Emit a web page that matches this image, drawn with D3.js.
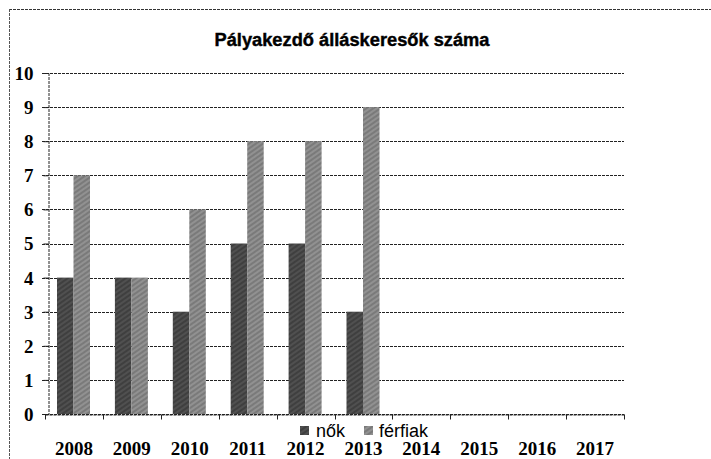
<!DOCTYPE html>
<html>
<head>
<meta charset="utf-8">
<script src="https://cdn.jsdelivr.net/npm/d3@7"></script>
<style>
  html, body { margin: 0; padding: 0; background: #fff; }
  svg { display: block; }
</style>
</head>
<body>
<svg id="chart" width="711" height="459"></svg>
<script>
const title = "Pályakezdő álláskeresők száma";
const categories = ["2008","2009","2010","2011","2012","2013","2014","2015","2016","2017"];
const seriesNames = ["nők","férfiak"];
const nok =     [4, 4, 3, 5, 5, 3, null, null, null, null];
const ferfiak = [7, 4, 6, 8, 8, 9, null, null, null, null];
const yTicks = [0,1,2,3,4,5,6,7,8,9,10];

const seriesValues = [nok, ferfiak];
const colors = ["#505050", "#7a7a7a"];
const hatchColors = ["#2e2e2e", "#a8a8a8"];

const svg = d3.select("#chart");
const W = 711, H = 459;
const plot = {left: 45, right: 624, top: 73, bottom: 414};

// outer frame (dashed, top and left like the scan)
svg.append("line").attr("x1", 9).attr("x2", W).attr("y1", 9.5).attr("y2", 9.5)
  .attr("stroke", "#333").attr("stroke-width", 1).attr("stroke-dasharray", "3,1");
svg.append("line").attr("x1", 9.5).attr("x2", 9.5).attr("y1", 9).attr("y2", H)
  .attr("stroke", "#555").attr("stroke-width", 1).attr("stroke-dasharray", "3,1");

// patterns
const defs = svg.append("defs");
colors.forEach((c, i) => {
  const p = defs.append("pattern").attr("id", "hatch" + i)
    .attr("patternUnits", "userSpaceOnUse").attr("width", 4).attr("height", 4)
    .attr("patternTransform", "rotate(-35)");
  p.append("rect").attr("width", 4).attr("height", 4).attr("fill", c);
  p.append("line").attr("x1", 0).attr("x2", 4).attr("y1", 1).attr("y2", 1)
    .attr("stroke", hatchColors[i]).attr("stroke-width", 1);
});

const x = d3.scaleBand().domain(categories).range([plot.left, plot.right]).padding(0);
const x1 = d3.scaleBand().domain(seriesNames).range([12, 45]).padding(0);
const y = d3.scaleLinear().domain([0, 10]).range([plot.bottom, plot.top]);

// gridlines
svg.append("g").selectAll("line").data(yTicks).join("line")
  .attr("x1", 42).attr("x2", plot.right)
  .attr("y1", d => Math.round(y(d)) + 0.5).attr("y2", d => Math.round(y(d)) + 0.5)
  .attr("stroke", "#222").attr("stroke-width", 1).attr("stroke-dasharray", "3,1");

// bars
const groups = svg.append("g").selectAll("g").data(categories).join("g")
  .attr("transform", d => `translate(${x(d)},0)`);
groups.selectAll("rect")
  .data((d, i) => seriesNames.map((s, k) => ({s, k, v: seriesValues[k][i]})).filter(e => e.v != null))
  .join("rect")
  .attr("x", e => x1(e.s))
  .attr("width", x1.bandwidth())
  .attr("y", e => y(e.v))
  .attr("height", e => y(0) - y(e.v))
  .attr("fill", e => `url(#hatch${e.k})`);

// y axis
const yAxis = d3.axisLeft(y).tickValues(yTicks).tickSize(5).tickPadding(10).tickFormat(d3.format("d"));
const gy = svg.append("g").attr("transform", "translate(48.5,0)").call(yAxis);
gy.select(".domain").attr("stroke", "#222").attr("stroke-dasharray", "3,1");
gy.selectAll(".tick line").attr("stroke", "#222");
gy.selectAll(".tick text")
  .attr("font-family", "Liberation Serif, serif").attr("font-weight", "bold")
  .attr("font-size", 19).attr("fill", "#000").attr("dy", "0.34em");

// x axis
const xAxis = d3.axisBottom(x).tickSize(0).tickPadding(27);
const gx = svg.append("g").attr("transform", `translate(0,${plot.bottom + 0.5})`).call(xAxis);
gx.select(".domain").attr("stroke", "#222").attr("stroke-dasharray", "3,1");
gx.selectAll(".tick text")
  .attr("font-family", "Liberation Serif, serif").attr("font-weight", "bold")
  .attr("font-size", 19).attr("fill", "#000");
// boundary ticks
const bounds = categories.map(c => x(c)).concat([plot.right]);
gx.append("g").selectAll("line").data(bounds).join("line")
  .attr("x1", d => Math.round(d) + 0.5).attr("x2", d => Math.round(d) + 0.5)
  .attr("y1", 0).attr("y2", 5).attr("stroke", "#222");

// title
svg.append("text").attr("x", 352).attr("y", 46).attr("text-anchor", "middle")
  .attr("font-family", "Liberation Sans, Arial, sans-serif").attr("font-weight", "bold")
  .attr("font-size", 18).attr("textLength", 275).attr("lengthAdjust", "spacingAndGlyphs")
  .attr("fill", "#000").attr("stroke", "#000").attr("stroke-width", 0.4).text(title);

// legend
const legendItems = [{name: seriesNames[0], sx: 300, tx: 316}, {name: seriesNames[1], sx: 364, tx: 379}];
const lg = svg.append("g");
legendItems.forEach((it, k) => {
  lg.append("rect").attr("x", it.sx).attr("y", 426).attr("width", 9).attr("height", 9)
    .attr("fill", `url(#hatch${k})`);
  lg.append("text").attr("x", it.tx).attr("y", 437)
    .attr("font-family", "Liberation Sans, Arial, sans-serif").attr("font-size", 18)
    .attr("fill", "#000").text(it.name);
});
</script>
</body>
</html>
